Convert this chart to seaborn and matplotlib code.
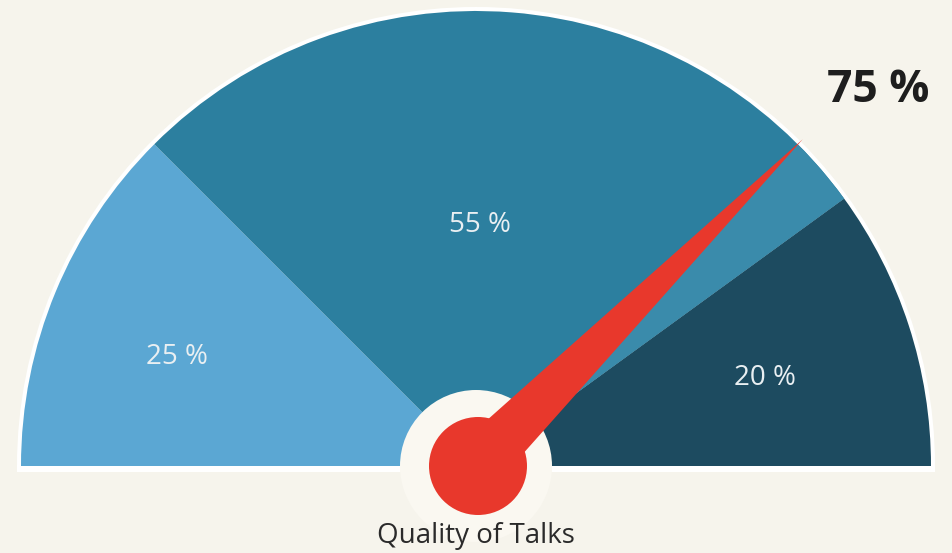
import numpy as np
import matplotlib.pyplot as plt
import matplotlib.patches as mpatches
import seaborn as sns

# --- data ---
segment_labels = ["25 %", "55 %", "20 %"]
segment_values = [25, 55, 20]
segment_colors = ["#5ba7d3", "#2c7f9f", "#1d4b60"]
needle_value = 75
needle_label = "75 %"
gauge_title = "Quality of Talks"

# --- layout ---
BG = "#f6f4ec"
CX, CY = 476, 87          # gauge centre (pixels from bottom-left)
R_OUT = 455
R_HOLE = 76
R_KNOB = 49
LABEL_ANGLES = [160, 89, 17]
LABEL_RADII = [318, 241, 302]

sns.set_style("white")
plt.rcParams["font.family"] = ["Open Sans", "DejaVu Sans"]

fig = plt.figure(figsize=(9.52, 5.53), dpi=100, facecolor=BG)
ax = fig.add_axes([0, 0, 1, 1])
ax.set_xlim(0, 952)
ax.set_ylim(0, 553)
ax.set_facecolor(BG)
ax.set_aspect("equal")
ax.axis("off")


def val_to_angle(v):
    return 180 - v * 1.8


# white backing strip under the arc
ax.add_patch(mpatches.Wedge((CX, CY), R_OUT + 4, 0, 180, facecolor="white", edgecolor="none", zorder=1))
ax.add_patch(mpatches.Rectangle((CX - R_OUT - 4, CY - 6), 2 * R_OUT + 8, 6,
                                facecolor="white", edgecolor="none", zorder=1))

# segments
cum = np.cumsum([0] + segment_values)
for i, (lab, col) in enumerate(zip(segment_labels, segment_colors)):
    a_start = val_to_angle(cum[i + 1])
    a_end = val_to_angle(cum[i])
    ax.add_patch(mpatches.Wedge((CX, CY), R_OUT, a_start, a_end, facecolor=col,
                                edgecolor="none", zorder=2))
    ang = np.deg2rad(LABEL_ANGLES[i])
    ax.text(CX + LABEL_RADII[i] * np.cos(ang), CY + LABEL_RADII[i] * np.sin(ang), lab,
            color="#e9eff2", fontsize=20, ha="center", va="center", zorder=5)

# lighter part of the middle segment beyond the needle
ax.add_patch(mpatches.Wedge((CX, CY), R_OUT, val_to_angle(cum[2]), val_to_angle(needle_value),
                            facecolor="#3a8bab", edgecolor="none", zorder=2))

# centre hole
ax.add_patch(mpatches.Circle((CX, CY), R_HOLE, facecolor="#faf8f1", edgecolor="none", zorder=3))
ax.add_patch(mpatches.Rectangle((CX - R_HOLE, CY - 6), 2 * R_HOLE, 6,
                                facecolor="#faf8f1", edgecolor="none", zorder=3))

# needle
na = np.deg2rad(val_to_angle(needle_value))
tip = (CX + 462 * np.cos(na), CY + 462 * np.sin(na))
px, py = -np.sin(na), np.cos(na)
hw = 27
needle = mpatches.Polygon([(CX + hw * px, CY + hw * py), tip, (CX - hw * px, CY - hw * py)],
                          closed=True, facecolor="#e8382c", edgecolor="none", zorder=4)
ax.add_patch(needle)
ax.add_patch(mpatches.Circle((CX + 2, CY), R_KNOB, facecolor="#e8382c", edgecolor="none", zorder=4))

# texts
ax.text(878, 463, needle_label, fontsize=32, fontweight="bold", color="#1e1e1e",
        ha="center", va="center", zorder=5)
ax.text(CX, 17, gauge_title, fontsize=20, color="#2a2a2a", ha="center", va="center", zorder=5)

fig.savefig("out.png", dpi=100, facecolor=BG)
